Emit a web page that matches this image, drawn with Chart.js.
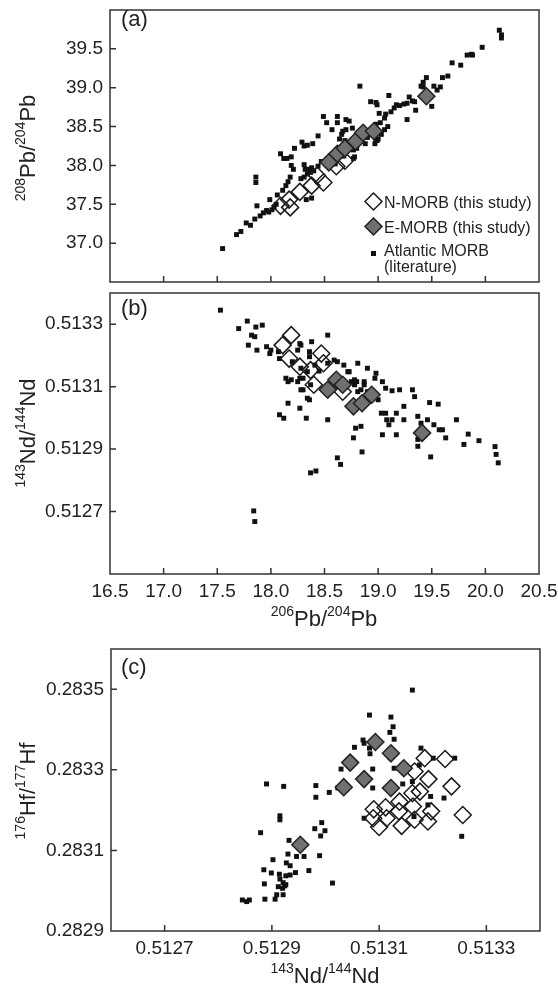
<!DOCTYPE html>
<html>
<head>
<meta charset="utf-8">
<script src="https://cdn.jsdelivr.net/npm/chart.js@4/dist/chart.umd.min.js"></script>
<style>
html, body { margin: 0; background: #fff; }
#fig { position: relative; width: 558px; height: 988px; background: #fff; overflow: hidden;
       font-family: "Liberation Sans", Arial, sans-serif; color: #222; }
#fig canvas { position: absolute; left: 0; }
.t { position: absolute; white-space: nowrap; font-size: 22px; line-height: 26px; }
.t sup { font-size: 14px; position: relative; top: -0.75em; vertical-align: baseline; line-height: 0; }
.yt { transform: translate(-50%, -50%) rotate(-90deg); }
.xt { transform: translateX(-50%); }
.pl { position: absolute; font-size: 22px; line-height: 26px; }
.lg { position: absolute; font-size: 16px; line-height: 19px; white-space: nowrap; }
</style>
</head>
<body>
<div id="fig">
  <canvas id="ca" width="558" height="292" style="top:0"></canvas>
  <canvas id="cb" width="558" height="340" style="top:283px"></canvas>
  <canvas id="cc" width="558" height="330" style="top:639px"></canvas>

  <div class="pl" style="left:121px;top:6px">(a)</div>
  <div class="pl" style="left:121px;top:295px">(b)</div>
  <div class="pl" style="left:121px;top:654px">(c)</div>

  <div class="t yt" style="left:28px;top:148px"><sup>208</sup>Pb/<sup>204</sup>Pb</div>
  <div class="t yt" style="left:28px;top:433px"><sup>143</sup>Nd/<sup>144</sup>Nd</div>
  <div class="t yt" style="left:28px;top:791px"><sup>176</sup>Hf/<sup>177</sup>Hf</div>
  <div class="t xt" style="left:324px;top:606px"><sup>206</sup>Pb/<sup>204</sup>Pb</div>
  <div class="t xt" style="left:325px;top:963px"><sup>143</sup>Nd/<sup>144</sup>Nd</div>

  <svg style="position:absolute;left:363px;top:191px" width="21" height="21"><path d="M10.5 2 L19 10.5 L10.5 19 L2 10.5 Z" fill="#fff" stroke="#1a1a1a" stroke-width="1.5"/></svg>
  <div class="lg" style="left:384px;top:193px">N-MORB (this study)</div>
  <svg style="position:absolute;left:363px;top:215.5px" width="21" height="21"><path d="M10.5 2 L19 10.5 L10.5 19 L2 10.5 Z" fill="#707070" stroke="#222" stroke-width="1.5"/></svg>
  <div class="lg" style="left:384px;top:218px">E-MORB (this study)</div>
  <div style="position:absolute;left:370.5px;top:250.8px;width:5px;height:5px;background:#111"></div>
  <div class="lg" style="left:384px;top:243px;line-height:16px">Atlantic MORB<br>(literature)</div>
</div>

<script>
// ---- data ----
// (a) 206Pb/204Pb vs 208Pb/204Pb
const aN206 = [18.09, 18.17, 18.18, 18.27, 18.38, 18.43, 18.49, 18.61, 18.69];
const aN208 = [37.48, 37.56, 37.46, 37.66, 37.74, 37.87, 37.78, 37.99, 38.06];
const aE206 = [18.54, 18.62, 18.69, 18.79, 18.86, 18.96, 19.45];
const aE208 = [38.04, 38.15, 38.22, 38.31, 38.42, 38.44, 38.89];
const aLit206 = [
  17.55, 17.68, 17.72, 17.77, 17.81, 17.85, 17.90, 17.93, 17.96, 18.01,
  18.03, 17.87, 17.86, 17.86, 17.99, 17.98, 18.05, 18.06, 18.11, 18.14,
  18.16, 18.09, 18.12, 18.15, 18.19, 18.18, 18.19, 18.21, 18.22, 18.29,
  18.31, 18.34, 18.39, 18.44, 18.31, 18.32, 18.35, 18.38, 18.33, 18.38,
  18.28, 18.31, 18.34, 18.37, 18.40, 18.44, 18.49, 18.52, 18.57, 18.62,
  18.62, 18.70, 18.67, 18.73, 18.64, 18.69, 18.77, 18.78, 18.72, 18.77,
  18.80, 18.88, 18.90, 18.98, 18.99, 18.77, 18.66, 18.70, 18.76, 18.83,
  18.93, 18.98, 18.99, 19.10, 19.29, 19.32, 19.17, 19.20, 19.24, 19.27,
  19.34, 19.15, 19.12, 19.07, 19.35, 19.27, 19.01, 19.06, 19.02, 19.09,
  18.98, 19.03, 19.06, 19.00, 18.97, 19.45, 19.42, 19.40, 19.42, 19.52,
  19.55, 19.58, 19.50, 19.60, 19.65, 19.69, 19.77, 19.83, 19.87, 19.88,
  19.97, 20.13, 20.15, 20.15, 18.58, 18.64, 18.71, 18.60, 18.68, 18.47];
const aLit208 = [
  36.93, 37.11, 37.15, 37.26, 37.23, 37.31, 37.35, 37.39, 37.42, 37.43,
  37.46, 37.48, 37.78, 37.85, 37.56, 37.40, 37.50, 37.62, 37.68, 37.74,
  37.79, 38.15, 38.09, 38.09, 38.11, 37.85, 38.00, 37.95, 38.22, 38.30,
  38.25, 38.26, 38.28, 38.38, 38.01, 37.95, 37.95, 37.97, 37.56, 37.58,
  37.83, 37.85, 37.89, 37.91, 37.93, 37.99, 38.63, 38.55, 38.46, 38.63,
  38.55, 38.59, 38.44, 38.57, 38.34, 38.32, 38.32, 38.11, 38.28, 38.20,
  38.22, 38.28, 38.36, 38.34, 38.32, 38.09, 38.40, 38.46, 38.48, 39.02,
  38.82, 38.81, 38.78, 38.90, 38.88, 38.83, 38.78, 38.77, 38.79, 38.80,
  38.82, 38.74, 38.69, 38.66, 38.71, 38.59, 38.67, 38.61, 38.55, 38.50,
  38.53, 38.40, 38.46, 38.34, 38.28, 39.13, 39.07, 39.02, 39.01, 39.02,
  38.97, 39.01, 38.76, 39.13, 39.15, 39.32, 39.29, 39.42, 39.43, 39.42,
  39.52, 39.74, 39.68, 39.64, 38.10, 38.18, 38.24, 38.02, 38.12, 38.05];

// (b) 206Pb/204Pb vs 143Nd/144Nd
const bN206 = [18.19, 18.11, 18.17, 18.27, 18.37, 18.40, 18.47, 18.49, 18.67];
const bN143 = [0.513265, 0.513233, 0.513190, 0.513164, 0.513153, 0.513106, 0.513206, 0.513175, 0.513084];
const bE206 = [18.53, 18.61, 18.67, 18.77, 18.85, 18.94, 19.41];
const bE143 = [0.513090, 0.513122, 0.513106, 0.513037, 0.513047, 0.513074, 0.512952];
const bLit206 = [
  17.53, 17.70, 17.78, 17.86, 17.92, 17.82, 17.85, 17.79, 17.87, 17.96,
  18.00, 17.99, 18.07, 18.08, 18.14, 18.16, 18.19, 18.27, 18.38, 18.53,
  18.28, 18.25, 18.36, 18.36, 18.41, 18.53, 18.59, 18.68, 18.73, 18.78,
  18.81, 18.90, 18.87, 18.84, 18.89, 18.27, 18.28, 18.34, 18.37, 18.30,
  18.36, 18.16, 18.27, 18.08, 18.12, 18.33, 18.53, 18.79, 18.84, 18.77,
  18.85, 18.62, 18.65, 18.37, 18.42, 18.98, 19.04, 19.07, 19.13, 19.20,
  19.32, 19.34, 19.48, 19.56, 19.07, 19.08, 19.13, 19.17, 19.24, 19.24,
  19.10, 19.04, 19.17, 19.37, 19.40, 19.37, 19.37, 19.46, 19.52, 19.57,
  19.60, 19.63, 19.49, 19.73, 19.84, 19.80, 19.94, 20.09, 20.10, 20.12,
  17.84, 17.85, 18.80, 18.97, 19.00, 19.03, 18.72, 18.62, 18.45, 18.20,
  18.72, 18.75, 18.78, 18.81, 18.87, 18.90, 18.28, 18.30, 18.34, 18.25];
const bLit143 = [
  0.513345, 0.513286, 0.513310, 0.513291, 0.513297, 0.513265, 0.513260, 0.513233, 0.513217, 0.513228,
  0.513217, 0.513206, 0.513212, 0.513190, 0.513127, 0.513116, 0.513122, 0.513238, 0.513244, 0.513265,
  0.513233, 0.513217, 0.513212, 0.513196, 0.513169, 0.513175, 0.513185, 0.513169, 0.513148, 0.513122,
  0.513175, 0.513159, 0.513116, 0.513090, 0.513053, 0.513127, 0.513090, 0.513063, 0.513106, 0.513090,
  0.513058, 0.513047, 0.513031, 0.513010, 0.512999, 0.512999, 0.512994, 0.512967, 0.512973, 0.512936,
  0.512891, 0.512872, 0.512851, 0.512824, 0.512830, 0.513143, 0.513116, 0.513095, 0.513087, 0.513090,
  0.513090, 0.513068, 0.513049, 0.513044, 0.513015, 0.512994, 0.512994, 0.513015, 0.513037, 0.512994,
  0.512978, 0.512946, 0.512946, 0.513005, 0.512983, 0.512931, 0.512909, 0.512994, 0.512978, 0.512962,
  0.512962, 0.512936, 0.512875, 0.512994, 0.512948, 0.512915, 0.512927, 0.512908, 0.512883, 0.512856,
  0.512702, 0.512668, 0.513116, 0.513127, 0.513058, 0.513015, 0.513148, 0.513180, 0.513150, 0.513180,
  0.513148, 0.513116, 0.513106, 0.513084, 0.513106, 0.513084, 0.513159, 0.513127, 0.513148, 0.513116];

// (c) 143Nd/144Nd vs 176Hf/177Hf
const cN143 = [0.513185, 0.513223, 0.513166, 0.513192, 0.513235, 0.513162, 0.513176, 0.513138, 0.513163, 0.513090,
               0.513112, 0.513197, 0.513256, 0.513089, 0.513114, 0.513137, 0.513166, 0.513191, 0.513100, 0.513142];
const cN176 = [0.283329, 0.283327, 0.283296, 0.283277, 0.283259, 0.283242, 0.283246, 0.283221, 0.283209, 0.283202,
               0.283207, 0.283197, 0.283188, 0.283180, 0.283180, 0.283197, 0.283176, 0.283172, 0.283158, 0.283161];
const cE143 = [0.512953, 0.513034, 0.513046, 0.513072, 0.513093, 0.513122, 0.513122, 0.513146];
const cE176 = [0.283114, 0.283257, 0.283318, 0.283277, 0.283369, 0.283341, 0.283255, 0.283304];
const cLit143 = [
  0.512879, 0.512890, 0.512922, 0.512982, 0.512982, 0.513007, 0.512915, 0.512915, 0.512993, 0.512980,
  0.512999, 0.512991, 0.512932, 0.512989, 0.512930, 0.512946, 0.512960, 0.512902, 0.512927, 0.512934,
  0.512969, 0.512885, 0.512899, 0.512914, 0.512926, 0.512934, 0.512944, 0.512886, 0.512915, 0.512921,
  0.512926, 0.512912, 0.512920, 0.512924, 0.513013, 0.512909, 0.512921, 0.512906, 0.512887, 0.512845,
  0.512853, 0.512858, 0.513162, 0.513082, 0.513122, 0.513126, 0.513120, 0.513128, 0.513070, 0.513072,
  0.513082, 0.513083, 0.513054, 0.513029, 0.513023, 0.513088, 0.513088, 0.513128, 0.513144, 0.513162,
  0.513178, 0.513175, 0.513201, 0.513196, 0.513221, 0.513241, 0.513254, 0.513165, 0.513072, 0.513191];
const cLit176 = [
  0.283144, 0.283265, 0.283259, 0.283261, 0.283232, 0.283244, 0.283186, 0.283176, 0.283169, 0.283154,
  0.283149, 0.283136, 0.283125, 0.283087, 0.283091, 0.283085, 0.283085, 0.283077, 0.283069, 0.283062,
  0.283050, 0.283052, 0.283044, 0.283041, 0.283037, 0.283039, 0.283045, 0.283017, 0.283029, 0.283020,
  0.283015, 0.283010, 0.283006, 0.283012, 0.283019, 0.282990, 0.282990, 0.282979, 0.282979, 0.282977,
  0.282973, 0.282977, 0.283498, 0.283436, 0.283431, 0.283407, 0.283393, 0.283376, 0.283374, 0.283366,
  0.283354, 0.283340, 0.283356, 0.283302, 0.283255, 0.283302, 0.283255, 0.283304, 0.283265, 0.283271,
  0.283354, 0.283312, 0.283329, 0.283234, 0.283230, 0.283329, 0.283135, 0.283184, 0.283180, 0.283213];

// tick labels
const pbTicks = [16.5, 17.0, 17.5, 18.0, 18.5, 19.0, 19.5, 20.0, 20.5];
const pb208Ticks = [37.0, 37.5, 38.0, 38.5, 39.0, 39.5];
const ndTicksB = [0.5127, 0.5129, 0.5131, 0.5133];
const ndTicksC = [0.5127, 0.5129, 0.5131, 0.5133];
const hfTicks = [0.2829, 0.2831, 0.2833, 0.2835];

Chart.defaults.font.family = '"Liberation Sans", Arial, sans-serif';
Chart.defaults.font.size = 19;
Chart.defaults.color = '#222';

const pts = (xs, ys) => xs.map((x, i) => ({ x: x, y: ys[i] }));

// box around the plot + short inward tick marks
const frame = {
  id: 'frame',
  afterDatasetsDraw(chart) {
    const { ctx, chartArea: a, scales } = chart;
    ctx.save();
    ctx.strokeStyle = '#333';
    ctx.lineWidth = 1.5;
    ctx.strokeRect(a.left, a.top, a.right - a.left, a.bottom - a.top);
    ctx.beginPath();
    scales.x.ticks.forEach(t => {
      const p = scales.x.getPixelForValue(t.value);
      if (p > a.left + 2 && p < a.right - 2) { ctx.moveTo(p, a.bottom); ctx.lineTo(p, a.bottom - 6); }
    });
    scales.y.ticks.forEach(t => {
      const p = scales.y.getPixelForValue(t.value);
      if (p > a.top + 2 && p < a.bottom - 2) { ctx.moveTo(a.left, p); ctx.lineTo(a.left + 6, p); }
    });
    ctx.stroke();
    ctx.restore();
  }
};

function panel(id, o) {
  const el = document.getElementById(id);
  return new Chart(el, {
    type: 'scatter',
    data: {
      datasets: [
        { label: 'E-MORB (this study)', data: o.e, order: 1, pointStyle: 'rectRot',
          pointRadius: 8.5, pointHoverRadius: 8.5, backgroundColor: '#707070', borderColor: '#222', borderWidth: 1.5 },
        { label: 'N-MORB (this study)', data: o.n, order: 2, pointStyle: 'rectRot',
          pointRadius: 8.5, pointHoverRadius: 8.5, backgroundColor: 'rgba(255,255,255,0)', borderColor: '#1a1a1a', borderWidth: 1.5 },
        { label: 'Atlantic MORB (literature)', data: o.lit, order: 3, pointStyle: 'rect',
          pointRadius: 3.5, pointHoverRadius: 3.5, backgroundColor: '#111', borderWidth: 0 }
      ]
    },
    options: {
      responsive: false,
      animation: false,
      devicePixelRatio: 1,
      events: [],
      layout: { padding: { top: o.top, right: el.width - o.right, left: 0, bottom: 0 } },
      plugins: { legend: { display: false }, tooltip: { enabled: false } },
      scales: {
        x: {
          type: 'linear', min: o.xMin, max: o.xMax,
          grid: { display: false, drawTicks: false }, border: { display: false },
          afterBuildTicks: s => { s.ticks = o.xTicks.map(v => ({ value: v })); },
          afterFit: s => { s.height = o.xh; s.paddingLeft = 0; s.paddingRight = 0; },
          ticks: { display: o.xLabels, padding: 6, maxRotation: 0, autoSkip: false,
                   callback: v => Number(v).toFixed(o.xDec) }
        },
        y: {
          type: 'linear', min: o.yMin, max: o.yMax,
          grid: { display: false, drawTicks: false }, border: { display: false },
          afterBuildTicks: s => { s.ticks = o.yTicks.map(v => ({ value: v })); },
          afterFit: s => { s.width = o.left; s.paddingTop = 0; s.paddingBottom = 0; },
          ticks: { padding: 7, autoSkip: false, callback: v => Number(v).toFixed(o.yDec) }
        }
      }
    },
    plugins: [frame]
  });
}

panel('ca', {
  e: pts(aE206, aE208), n: pts(aN206, aN208), lit: pts(aLit206, aLit208),
  top: 8, xh: 1, left: 110, right: 539,
  xMin: 16.5, xMax: 20.5, xTicks: pbTicks, xLabels: false, xDec: 1,
  yMin: 36.5, yMax: 40.0, yTicks: pb208Ticks, yDec: 1
});

panel('cb', {
  e: pts(bE206, bE143), n: pts(bN206, bN143), lit: pts(bLit206, bLit143),
  top: 8, xh: 49, left: 110, right: 539,
  xMin: 16.5, xMax: 20.5, xTicks: pbTicks, xLabels: true, xDec: 1,
  yMin: 0.5125, yMax: 0.5134, yTicks: ndTicksB, yDec: 4
});

panel('cc', {
  e: pts(cE143, cE176), n: pts(cN143, cN176), lit: pts(cLit143, cLit176),
  top: 8, xh: 38, left: 111, right: 540,
  xMin: 0.5126, xMax: 0.5134, xTicks: ndTicksC, xLabels: true, xDec: 4,
  yMin: 0.2829, yMax: 0.2836, yTicks: hfTicks, yDec: 4
});
</script>
</body>
</html>
